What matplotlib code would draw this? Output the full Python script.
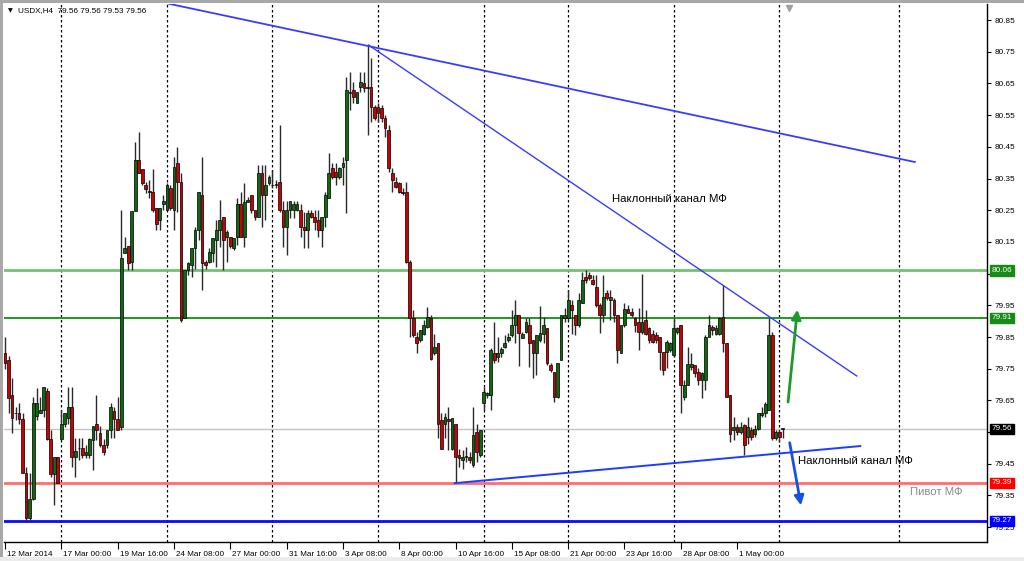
import matplotlib
matplotlib.use("Agg")
import matplotlib.pyplot as plt
import matplotlib.transforms as mtransforms
import numpy as np

plt.rcParams['font.family'] = ['Liberation Sans', 'DejaVu Sans']

# H4 candles, bar 0 = 12 Mar 2014 08:00
opens = [79.798, 79.779, 79.667, 79.611, 79.611, 79.590, 79.420, 79.278, 79.338, 79.600,
         79.609, 79.620, 79.681, 79.527, 79.417, 79.470, 79.529, 79.575, 79.596, 79.628,
         79.470, 79.499, 79.499, 79.477, 79.477, 79.525, 79.577, 79.548, 79.509, 79.509,
         79.558, 79.617, 79.590, 79.567, 80.116, 80.137, 80.087, 80.248, 80.408, 80.379,
         80.329, 80.308, 80.308, 80.256, 80.219, 80.270, 80.251, 80.319, 80.251, 80.398,
         80.340, 79.909, 80.061, 80.077, 80.130, 80.187, 80.298, 80.087, 80.087, 80.114,
         80.156, 80.187, 80.230, 80.166, 80.166, 80.130, 80.166, 80.269, 80.166, 80.277,
         80.298, 80.251, 80.227, 80.366, 80.298, 80.335, 80.329, 80.329, 80.340, 80.251,
         80.198, 80.251, 80.251, 80.251, 80.251, 80.198, 80.187, 80.240, 80.230, 80.219,
         80.187, 80.230, 80.287, 80.382, 80.371, 80.356, 80.387, 80.408, 80.619, 80.629,
         80.587, 80.640, 80.650, 80.640, 80.640, 80.577, 80.577, 80.571, 80.540, 80.503,
         80.366, 80.340, 80.335, 80.308, 80.308, 80.087, 79.909, 79.851, 79.840, 79.861,
         79.882, 79.909, 79.798, 79.830, 79.588, 79.577, 79.590, 79.498, 79.577, 79.477,
         79.461, 79.472, 79.472, 79.446, 79.551, 79.477, 79.641, 79.667, 79.667, 79.798,
         79.788, 79.798, 79.817, 79.841, 79.856, 79.888, 79.919, 79.848, 79.867, 79.888,
         79.841, 79.798, 79.841, 79.860, 79.877, 79.762, 79.741, 79.662, 79.777, 79.909,
         79.909, 79.951, 79.919, 79.888, 79.956, 80.040, 80.046, 80.030, 80.009, 79.951,
         79.919, 79.988, 79.967, 79.967, 79.919, 79.798, 79.888, 79.937, 79.930, 79.909,
         79.898, 79.866, 79.903, 79.877, 79.861, 79.856, 79.851, 79.803, 79.803, 79.809,
         79.793, 79.866, 79.887, 79.661, 79.698, 79.756, 79.761, 79.740, 79.714, 79.714,
         79.851, 79.882, 79.861, 79.861, 79.914, 79.830, 79.666, 79.556, 79.566, 79.551,
         79.572, 79.535, 79.556, 79.545, 79.561, 79.603, 79.609, 79.619, 79.856, 79.530,
         79.551, 79.560]
highs = [79.851, 79.790, 79.720, 79.630, 79.641, 79.609, 79.441, 79.420, 79.662, 79.688,
         79.662, 79.691, 79.688, 79.558, 79.470, 79.470, 79.620, 79.609, 79.691, 79.691,
         79.530, 79.530, 79.530, 79.509, 79.530, 79.569, 79.667, 79.569, 79.527, 79.558,
         79.641, 79.630, 79.662, 80.251, 80.166, 80.137, 80.248, 80.465, 80.498, 80.379,
         80.340, 80.345, 80.379, 80.256, 80.256, 80.298, 80.335, 80.329, 80.419, 80.450,
         80.366, 80.061, 80.087, 80.130, 80.198, 80.308, 80.419, 80.093, 80.130, 80.161,
         80.219, 80.282, 80.230, 80.187, 80.166, 80.161, 80.287, 80.308, 80.335, 80.293,
         80.298, 80.251, 80.393, 80.393, 80.393, 80.361, 80.376, 80.345, 80.520, 80.280,
         80.280, 80.280, 80.280, 80.280, 80.269, 80.245, 80.251, 80.251, 80.251, 80.251,
         80.230, 80.308, 80.429, 80.400, 80.398, 80.387, 80.419, 80.671, 80.687, 80.655,
         80.624, 80.687, 80.687, 80.771, 80.729, 80.582, 80.587, 80.582, 80.550, 80.519,
         80.382, 80.356, 80.340, 80.319, 80.340, 80.093, 79.935, 79.867, 79.872, 79.903,
         79.945, 79.919, 79.861, 79.830, 79.609, 79.609, 79.630, 79.593, 79.577, 79.498,
         79.493, 79.503, 79.487, 79.630, 79.577, 79.556, 79.693, 79.677, 79.814, 79.898,
         79.851, 79.819, 79.856, 79.862, 79.935, 79.967, 79.919, 79.867, 79.909, 79.909,
         79.841, 79.856, 79.948, 79.914, 79.877, 79.767, 79.741, 79.767, 79.919, 79.940,
         79.998, 79.967, 79.919, 79.988, 80.056, 80.061, 80.056, 80.046, 80.046, 79.956,
         80.046, 79.998, 79.998, 79.972, 79.919, 79.888, 79.956, 79.951, 79.940, 79.914,
         79.940, 80.050, 79.935, 79.882, 79.872, 79.866, 79.851, 79.803, 79.840, 79.835,
         79.909, 79.882, 79.887, 79.714, 79.819, 79.798, 79.761, 79.751, 79.740, 79.856,
         79.919, 79.887, 79.887, 79.914, 80.014, 79.830, 79.666, 79.598, 79.577, 79.582,
         79.577, 79.598, 79.566, 79.572, 79.609, 79.630, 79.645, 79.909, 79.866, 79.556,
         79.556, 79.560]
lows = [79.748, 79.609, 79.546, 79.588, 79.577, 79.420, 79.267, 79.274, 79.335, 79.588,
        79.609, 79.598, 79.525, 79.409, 79.320, 79.388, 79.529, 79.567, 79.577, 79.441,
        79.409, 79.462, 79.467, 79.467, 79.467, 79.430, 79.525, 79.504, 79.477, 79.499,
        79.530, 79.530, 79.556, 79.556, 80.116, 80.061, 80.061, 80.248, 80.366, 80.329,
        80.303, 80.287, 80.245, 80.187, 80.187, 80.251, 80.251, 80.251, 80.187, 80.245,
        79.898, 79.909, 80.045, 80.040, 80.066, 80.156, 79.998, 80.066, 80.082, 80.087,
        80.072, 80.135, 80.061, 80.087, 80.130, 80.124, 80.140, 80.166, 80.135, 80.277,
        80.240, 80.219, 80.227, 80.198, 80.219, 80.329, 80.319, 80.319, 80.245, 80.135,
        80.109, 80.224, 80.224, 80.248, 80.166, 80.130, 80.130, 80.224, 80.187, 80.166,
        80.135, 80.198, 80.287, 80.350, 80.329, 80.350, 80.329, 80.240, 80.566, 80.587,
        80.587, 80.624, 80.624, 80.487, 80.529, 80.535, 80.529, 80.529, 80.482, 80.371,
        80.308, 80.319, 80.303, 80.298, 80.082, 79.851, 79.851, 79.798, 79.835, 79.856,
        79.877, 79.777, 79.793, 79.530, 79.498, 79.530, 79.493, 79.493, 79.388, 79.440,
        79.435, 79.456, 79.451, 79.440, 79.456, 79.472, 79.620, 79.656, 79.620, 79.767,
        79.772, 79.788, 79.814, 79.835, 79.851, 79.830, 79.760, 79.846, 79.862, 79.756,
        79.720, 79.730, 79.835, 79.830, 79.762, 79.741, 79.646, 79.657, 79.777, 79.898,
        79.904, 79.860, 79.856, 79.883, 79.956, 80.020, 80.030, 80.014, 79.946, 79.862,
        79.898, 79.967, 79.904, 79.898, 79.767, 79.798, 79.883, 79.925, 79.914, 79.867,
        79.809, 79.861, 79.856, 79.830, 79.830, 79.830, 79.745, 79.730, 79.751, 79.803,
        79.788, 79.861, 79.609, 79.651, 79.698, 79.745, 79.724, 79.698, 79.656, 79.682,
        79.851, 79.856, 79.856, 79.856, 79.803, 79.661, 79.519, 79.524, 79.540, 79.545,
        79.477, 79.514, 79.524, 79.535, 79.556, 79.598, 79.598, 79.619, 79.524, 79.524,
        79.519, 79.530]
closes = [79.767, 79.656, 79.596, 79.609, 79.590, 79.420, 79.278, 79.338, 79.641, 79.641,
          79.620, 79.691, 79.527, 79.417, 79.470, 79.388, 79.577, 79.609, 79.628, 79.470,
          79.491, 79.499, 79.477, 79.488, 79.527, 79.569, 79.558, 79.509, 79.488, 79.558,
          79.628, 79.590, 79.558, 80.098, 80.130, 80.082, 80.248, 80.408, 80.366, 80.335,
          80.316, 80.308, 80.251, 80.208, 80.256, 80.280, 80.329, 80.256, 80.387, 80.340,
          79.903, 80.061, 80.082, 80.130, 80.187, 80.308, 80.082, 80.077, 80.119, 80.161,
          80.187, 80.219, 80.156, 80.182, 80.137, 80.161, 80.269, 80.166, 80.277, 80.282,
          80.251, 80.227, 80.366, 80.298, 80.329, 80.355, 80.329, 80.333, 80.251, 80.198,
          80.251, 80.280, 80.269, 80.269, 80.198, 80.187, 80.240, 80.230, 80.214, 80.187,
          80.230, 80.298, 80.366, 80.356, 80.356, 80.382, 80.398, 80.629, 80.624, 80.608,
          80.624, 80.655, 80.634, 80.634, 80.577, 80.540, 80.558, 80.540, 80.508, 80.382,
          80.345, 80.324, 80.308, 80.303, 80.087, 79.909, 79.856, 79.830, 79.872, 79.888,
          79.914, 79.782, 79.819, 79.577, 79.498, 79.598, 79.585, 79.593, 79.472, 79.467,
          79.472, 79.472, 79.461, 79.540, 79.488, 79.556, 79.677, 79.672, 79.809, 79.777,
          79.798, 79.811, 79.830, 79.851, 79.888, 79.919, 79.862, 79.860, 79.898, 79.830,
          79.798, 79.856, 79.862, 79.888, 79.767, 79.746, 79.662, 79.767, 79.919, 79.919,
          79.967, 79.935, 79.888, 79.967, 80.030, 80.030, 80.035, 80.017, 79.951, 79.919,
          79.977, 79.972, 79.977, 79.919, 79.809, 79.888, 79.937, 79.927, 79.919, 79.888,
          79.867, 79.898, 79.861, 79.840, 79.835, 79.840, 79.803, 79.745, 79.835, 79.830,
          79.877, 79.877, 79.698, 79.698, 79.766, 79.766, 79.735, 79.714, 79.735, 79.851,
          79.887, 79.872, 79.877, 79.909, 79.830, 79.661, 79.545, 79.566, 79.551, 79.566,
          79.509, 79.566, 79.535, 79.561, 79.609, 79.609, 79.640, 79.856, 79.530, 79.551,
          79.535, 79.560]

date_ticks = [0, 16, 32, 48, 64, 80, 96, 112, 128, 144, 160, 176, 192, 208]
date_labels = ['12 Mar 2014', '17 Mar 00:00', '19 Mar 16:00', '24 Mar 08:00', '27 Mar 00:00',
               '31 Mar 16:00', '3 Apr 08:00', '8 Apr 00:00', '10 Apr 16:00', '15 Apr 08:00',
               '21 Apr 00:00', '23 Apr 16:00', '28 Apr 08:00', '1 May 00:00']
week_starts = [16, 46, 76, 106, 136, 160, 190, 220, 254]
price_ticks = np.round(np.arange(79.25, 80.86, 0.10), 2)

levels = [80.06, 79.91, 79.56, 79.39, 79.27]
level_line_colors = ['#72c072', '#1e9a1e', '#c4c4c4', '#ff6e6e', '#0a0aff']
level_box_colors = ['#178a17', '#178a17', '#000000', '#ff0000', '#0000ff']
level_widths = [2.0, 1.4, 1.0, 2.0, 2.0]

# trend lines (bar, price)
upper_line = ([45.0, 258.5], [80.905, 80.402])
falling_line = ([103.3, 242.0], [80.771, 79.727])
lower_line = ([127.8, 243.0], [79.389, 79.506])

fig = plt.figure(figsize=(10.24, 5.61), dpi=100)
fig.patch.set_facecolor('white')
ax = fig.add_axes([4 / 1024, 1 - 542 / 561, 983 / 1024, 538 / 561])
ax.set_facecolor('white')

ax.set_xlim(-0.28, 279.0)
ax.set_ylim(79.2033, 80.9005)

for w in week_starts:
    ax.axvline(w, color='black', lw=0.9, ls=(0, (2, 2)), zorder=1)

for lv, c, lw in zip(levels, level_line_colors, level_widths):
    ax.axhline(lv, color=c, lw=lw, zorder=2)

x = np.arange(len(opens))
o = np.array(opens)
h = np.array(highs)
l = np.array(lows)
c = np.array(closes)
up = c >= o
ax.vlines(x, l, h, color='#2a2a2a', lw=1.0, zorder=3)
body_bottom = np.minimum(o, c)
body_height = np.maximum(np.abs(c - o), 0.002)
ax.bar(x, body_height, bottom=body_bottom, width=0.78,
       color=np.where(up, '#0f6a0f', '#cc0000'), edgecolor='black', linewidth=0.5, zorder=4)

ax.plot(*upper_line, color='#3b3bff', lw=1.3, zorder=5)
ax.plot(*falling_line, color='#3b3bff', lw=1.0, zorder=5)
ax.plot(*lower_line, color='#1f3cff', lw=1.4, zorder=5)

ax.annotate('', xy=(225.2, 79.945), xytext=(222.4, 79.636),
            arrowprops=dict(arrowstyle='-|>', color='#1b9a2a', lw=2, mutation_scale=14), zorder=6)
ax.annotate('', xy=(226.3, 79.31), xytext=(222.8, 79.525),
            arrowprops=dict(arrowstyle='-|>', color='#1650e6', lw=2, mutation_scale=14), zorder=6)

ax.text(172.4, 80.285, 'Наклонный канал МФ', fontsize=8.2, va='center', ha='left', zorder=7)
ax.text(225.2, 79.459, 'Наклонный канал МФ', fontsize=8.2, va='center', ha='left', zorder=7)
ax.text(257.2, 79.361, 'Пивот МФ', fontsize=8.2, color='#8a8a8a', va='center', ha='left', zorder=7)

# chart shift marker
ax.plot([222.8], [80.888], marker='v', color='#a0a0a0', markersize=5, zorder=7, clip_on=False)

for side in ['left', 'top']:
    ax.spines[side].set_visible(False)
for side in ['right', 'bottom']:
    ax.spines[side].set_color('black')
    ax.spines[side].set_linewidth(1.0)

ax.yaxis.tick_right()
ax.set_yticks(price_ticks)
ax.set_yticklabels([f'{p:.2f}' for p in price_ticks])
ax.tick_params(axis='y', direction='out', length=3, width=0.8, pad=2.5, labelsize=5.9)

ax.set_xticks(date_ticks)
ax.set_xticklabels(date_labels)
ax.tick_params(axis='x', direction='out', length=5, width=0.8, pad=1.5, labelsize=5.9)
shift = mtransforms.ScaledTranslation(2 / 100, 0, fig.dpi_scale_trans)
for lab in ax.get_xticklabels():
    lab.set_horizontalalignment('left')
    lab.set_transform(lab.get_transform() + shift)

ytrans = ax.get_yaxis_transform()
for lv, bc in zip(levels, level_box_colors):
    ax.text(1.0045, lv, f'{lv:.2f}', transform=ytrans, color='white', fontsize=5.9,
            va='center', ha='left', zorder=10, clip_on=False,
            bbox=dict(boxstyle='square,pad=0.22', fc=bc, ec=bc))

fig.text(8 / 1024, 1 - 11 / 561, '▼', fontsize=4.5, va='center', ha='left', family='DejaVu Sans')
fig.text(18 / 1024, 1 - 11 / 561, 'USDX,H4  79.56 79.56 79.53 79.56', fontsize=5.9,
         va='center', ha='left')

# window frame
fig.add_artist(plt.Rectangle((0, 1 - 3 / 561), 1, 3 / 561, transform=fig.transFigure,
                             color='#a8a8a8', lw=0))
fig.add_artist(plt.Rectangle((0, 0), 3 / 1024, 1, transform=fig.transFigure,
                             color='#a8a8a8', lw=0))
fig.add_artist(plt.Rectangle((0, 0), 1, 4 / 561, transform=fig.transFigure,
                             color='#ececec', lw=0))

fig.savefig('out.png', dpi=100, facecolor='white')
